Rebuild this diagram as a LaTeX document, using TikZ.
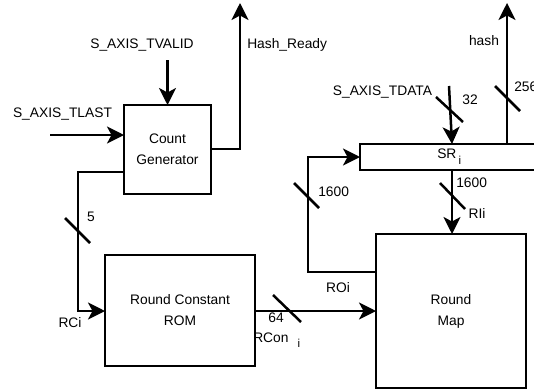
\documentclass[tikz,border=0pt]{standalone}
\usepackage{fontspec}
\setmainfont{Liberation Sans}
\usetikzlibrary{arrows.meta}
\newcommand\dfont{\fontsize{13.8}{21}\selectfont}
\newcommand\sfont{\fontsize{11.5}{11.5}\selectfont}
\begin{document}
\begin{tikzpicture}[x=1pt,y=-1pt, line width=2.5pt,
  blk/.style={draw, line width=2.5pt, inner sep=0pt, outer sep=0pt, align=center, font=\dfont},
  lbl/.style={inner sep=0pt, anchor=base, font=\dfont},
  arr/.style={-{Stealth[length=17pt,width=17pt,inset=4.5pt]}}]
\useasboundingbox (0,0) rectangle (534,391);
% blocks
\node[blk, minimum width=87pt, minimum height=89pt] (cg) at (167.5,149.5) {Count\\Generator};
\node[blk, minimum width=150pt, minimum height=111pt] (rom) at (180,310.5) {Round Constant\\ROM};
\node[blk, minimum width=150pt, minimum height=154pt] (rm) at (451,311) {Round\\Map};
\node[blk, minimum width=180pt, minimum height=26pt] (sr) at (450,157) {};
% coordinates
\coordinate (tv) at (167.5,60);
\coordinate (tl) at (50,135);
\coordinate (hra) at (211,149);
\coordinate (hrb) at (240,149);
\coordinate (hrc) at (240,3);
\coordinate (c5a) at (78,172);
\coordinate (c5b) at (78,311);
\coordinate (rc) at (300,311);
\coordinate (roa) at (308,272);
\coordinate (rob) at (308,157);
\coordinate (ri) at (452,170);
\coordinate (td) at (449,86);
\coordinate (tdb) at (452,144);
\coordinate (hs) at (507,3);
% connectors
\draw[arr] (tv) -- (cg.north);
\draw[arr] (tl) -- (tl -| cg.west);
\draw[arr] (hra -| cg.east) -- (hrb) -- (hrc);
\draw[arr] (c5a -| cg.west) -- (c5a) -- (c5b) -- (c5b -| rom.west);
\draw[arr] (rc -| rom.east) -- (rc -| rm.west);
\draw[arr] (roa -| rm.west) -- (roa) -- (rob) -- (sr.west);
\draw[arr] (ri |- sr.south) -- (ri |- rm.north);
\draw[arr] (td) -- (tdb |- sr.north);
\draw[arr] (hs |- sr.north) -- (hs);
% bus slashes
\draw (65,218) -- (90,243);
\draw (273,295) -- (301,322);
\draw (294,183) -- (319,208);
\draw (440,183) -- (465,209);
\draw (436,97) -- (463,122);
\draw (495,86) -- (520,111);
% labels
\node[lbl] (ltv) at (142,48) {S\_AXIS\_TVALID};
\node[lbl] (ltl) at (62.5,117) {S\_AXIS\_TLAST};
\node[lbl, anchor=base west] (lhr) at (246,48) {Hash\_Ready};
\node[lbl] (lhs) at (484,45) {hash};
\node[lbl] (ltd) at (382.5,95) {S\_AXIS\_TDATA};
\node[lbl] (l32) at (470,104) {32};
\node[lbl, anchor=base west] (l256) at (513,91) {256};
\node[lbl, anchor=base west] (lsr) at (436,158) {SR\,\raisebox{-6pt}{\sfont i}};
\node[lbl] (l5) at (91,221) {5};
\node[lbl] (lrci) at (70,327) {RCi};
\node[lbl] (l64) at (276,322) {64};
\node[lbl, anchor=base west] (lrcon) at (252,342) {RCon\hspace{9pt}\raisebox{-5pt}{\sfont i}};
\node[lbl] (lroi) at (338,292) {ROi};
\node[lbl, anchor=base west] (l1600a) at (317,196) {1600};
\node[lbl, anchor=base west] (l1600b) at (455,187) {1600};
\node[lbl] (lrii) at (477,218) {RIi};
\end{tikzpicture}
\end{document}
